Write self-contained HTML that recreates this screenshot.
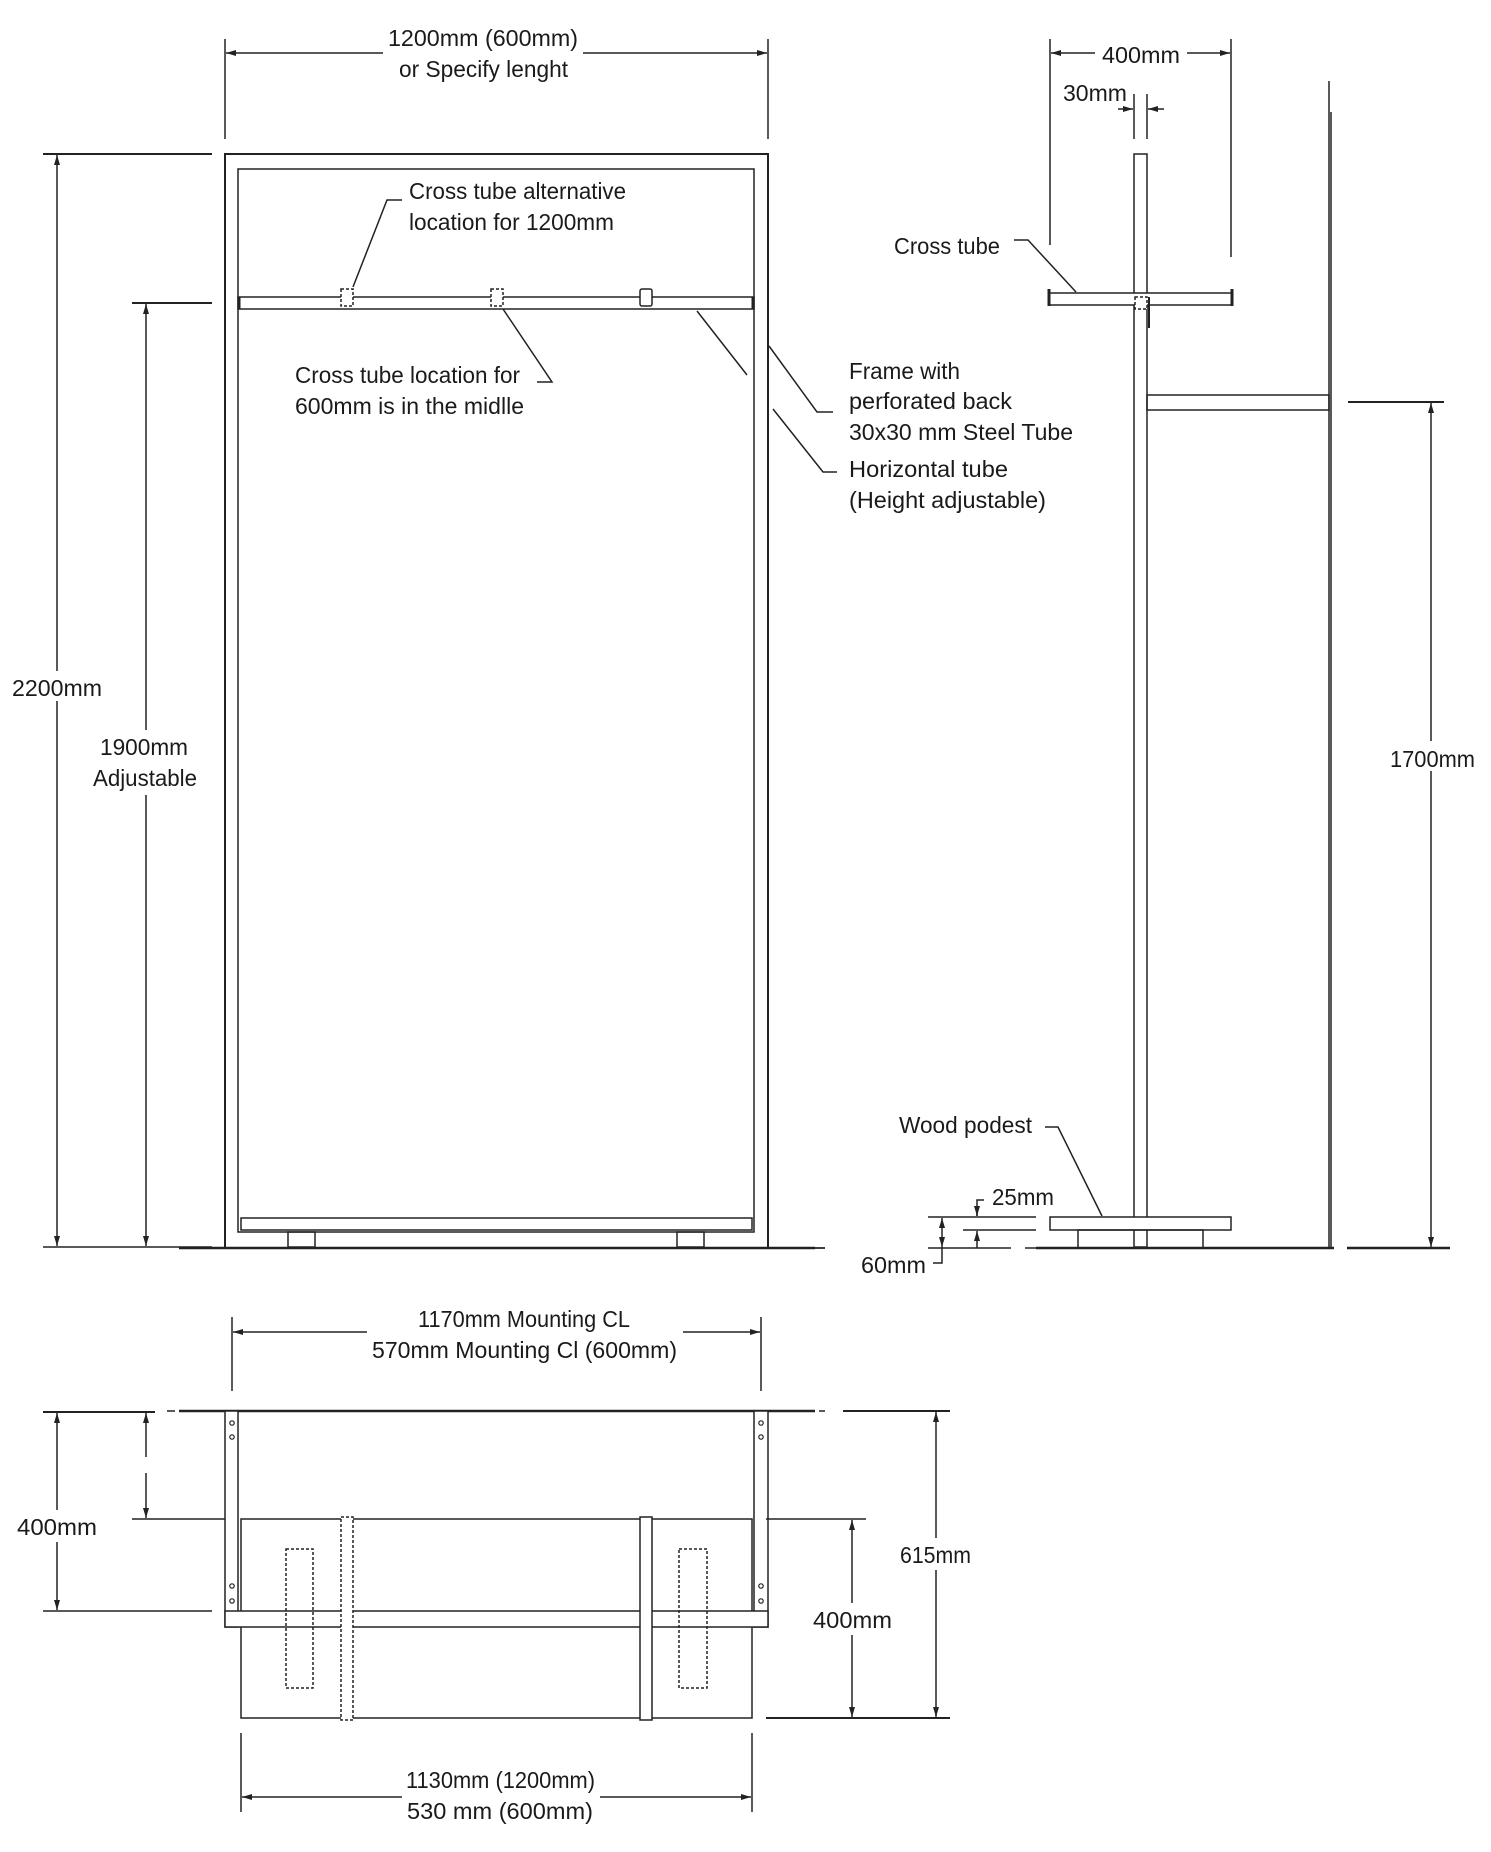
<!DOCTYPE html>
<html><head><meta charset="utf-8"><style>
html,body{margin:0;padding:0;background:#fff;}
svg{display:block;}
text{font-family:"Liberation Sans",sans-serif;font-size:23px;fill:#1a1a1a;}
</style></head><body>
<svg width="1491" height="1852" viewBox="0 0 1491 1852" xmlns="http://www.w3.org/2000/svg">
<defs>
<marker id="a" viewBox="0 0 10 6" refX="10" refY="3" markerWidth="10" markerHeight="6" markerUnits="userSpaceOnUse" orient="auto"><path d="M0,0 L10,3 L0,6 z" fill="#222"/></marker>
</defs>
<g stroke="#222" stroke-width="1.5" fill="none">
<!-- FRONT VIEW -->
<line x1="225" y1="39" x2="225" y2="139"/><line x1="768" y1="39" x2="768" y2="139"/>
<line x1="383" y1="53" x2="226" y2="53" marker-end="url(#a)"/><line x1="583" y1="53" x2="767" y2="53" marker-end="url(#a)"/>
<path d="M225,1247 V154 H768 V1247" stroke-width="2"/>
<rect x="238" y="169" width="516" height="1063"/>
<rect x="238" y="297" width="516" height="12"/>
<line x1="239" y1="297" x2="239" y2="309" stroke-width="3"/><line x1="753" y1="297" x2="753" y2="309" stroke-width="3"/>
<rect x="341" y="289" width="12" height="17" stroke-dasharray="3,2" fill="#fff"/>
<rect x="491" y="289" width="12" height="17" stroke-dasharray="3,2" fill="#fff"/>
<rect x="640" y="289" width="12" height="17" rx="2" fill="#fff"/>
<rect x="241" y="1218" width="511" height="12"/>
<rect x="288" y="1232" width="27" height="15"/><rect x="677" y="1232" width="27" height="15"/>
<line x1="179" y1="1248" x2="815" y2="1248" stroke-width="2.5"/><line x1="815" y1="1248" x2="825" y2="1248"/>
<line x1="43" y1="154" x2="212" y2="154" stroke-width="2"/>
<line x1="43" y1="1247" x2="212" y2="1247"/>
<line x1="57" y1="671" x2="57" y2="155" marker-end="url(#a)"/><line x1="57" y1="701" x2="57" y2="1246" marker-end="url(#a)"/>
<line x1="132" y1="303" x2="212" y2="303" stroke-width="2"/>
<line x1="146" y1="730" x2="146" y2="304" marker-end="url(#a)"/><line x1="146" y1="795" x2="146" y2="1246" marker-end="url(#a)"/>
<!-- leaders -->
<polyline points="353,287 387,200 402,200"/>
<polyline points="503,309 552,382 537,382"/>
<line x1="697" y1="311" x2="747" y2="375"/>
<polyline points="769,346 817,412 833,412"/>
<polyline points="773,409 823,472 837,472"/>
<!-- SIDE VIEW -->
<line x1="1050" y1="39" x2="1050" y2="245"/><line x1="1231" y1="39" x2="1231" y2="257"/>
<line x1="1095" y1="53" x2="1051" y2="53" marker-end="url(#a)"/><line x1="1187" y1="53" x2="1230" y2="53" marker-end="url(#a)"/>
<line x1="1134" y1="94" x2="1134" y2="139"/><line x1="1147" y1="94" x2="1147" y2="139"/>
<line x1="1118" y1="109" x2="1133" y2="109" marker-end="url(#a)"/><line x1="1164" y1="109" x2="1148" y2="109" marker-end="url(#a)"/>
<rect x="1134" y="154" width="13" height="1093"/>
<rect x="1049" y="293" width="183" height="12" fill="#fff"/>
<line x1="1049" y1="289" x2="1049" y2="306" stroke-width="3"/><line x1="1232" y1="289" x2="1232" y2="306" stroke-width="3"/>
<rect x="1135" y="297" width="12" height="12" stroke-dasharray="3,2" fill="#fff"/>
<line x1="1149" y1="297" x2="1149" y2="328" stroke-width="2"/>
<polyline points="1014,240 1028,240 1076,292"/>
<rect x="1147" y="395" width="182" height="15"/>
<line x1="1329" y1="81" x2="1329" y2="1248"/><line x1="1331" y1="112" x2="1331" y2="1248"/>
<line x1="1348" y1="402" x2="1444" y2="402" stroke-width="2"/>
<line x1="1431" y1="741" x2="1431" y2="403" marker-end="url(#a)"/><line x1="1431" y1="771" x2="1431" y2="1247" marker-end="url(#a)"/>
<rect x="1050" y="1217" width="181" height="13" fill="#fff"/>
<rect x="1078" y="1230" width="125" height="18"/>
<line x1="1036" y1="1248" x2="1334" y2="1248" stroke-width="2.5"/>
<line x1="1347" y1="1248" x2="1450" y2="1248" stroke-width="2.5"/>
<polyline points="1045,1127 1058,1127 1102,1216"/>
<line x1="928" y1="1217" x2="1036" y2="1217"/><line x1="963" y1="1230" x2="1036" y2="1230"/>
<line x1="928" y1="1248" x2="1011" y2="1248"/><line x1="1025" y1="1248" x2="1036" y2="1248"/>
<line x1="942" y1="1232" x2="942" y2="1218" marker-end="url(#a)"/><line x1="942" y1="1232" x2="942" y2="1247" marker-end="url(#a)"/>
<polyline points="942,1247 942,1263 933,1263"/>
<polyline points="984,1200 977,1200 977,1216"/><line x1="977" y1="1212" x2="977" y2="1216" marker-end="url(#a)"/>
<line x1="977" y1="1248" x2="977" y2="1231" marker-end="url(#a)"/>
<line x1="800" y1="1248" x2="825" y2="1248"/>
<!-- BOTTOM VIEW -->
<line x1="232" y1="1317" x2="232" y2="1391"/><line x1="761" y1="1317" x2="761" y2="1391"/>
<line x1="367" y1="1332" x2="233" y2="1332" marker-end="url(#a)"/><line x1="683" y1="1332" x2="760" y2="1332" marker-end="url(#a)"/>
<line x1="179" y1="1411" x2="815" y2="1411" stroke-width="2.5"/>
<line x1="167" y1="1411" x2="175" y2="1411"/><line x1="819" y1="1411" x2="825" y2="1411"/>
<line x1="43" y1="1412" x2="155" y2="1412" stroke-width="2"/>
<line x1="132" y1="1519" x2="227" y2="1519"/>
<line x1="43" y1="1611" x2="212" y2="1611"/>
<line x1="57" y1="1510" x2="57" y2="1413" marker-end="url(#a)"/><line x1="57" y1="1542" x2="57" y2="1610" marker-end="url(#a)"/>
<line x1="146" y1="1457" x2="146" y2="1413" marker-end="url(#a)"/><line x1="146" y1="1473" x2="146" y2="1518" marker-end="url(#a)"/>
<rect x="241" y="1519" width="511" height="199"/>
<rect x="225" y="1411" width="13" height="216" fill="#fff"/>
<rect x="754" y="1411" width="14" height="216" fill="#fff"/>
<rect x="225" y="1611" width="543" height="16" fill="#fff"/>
<g stroke-width="1.2"><circle cx="232" cy="1423" r="2.2"/><circle cx="232" cy="1437" r="2.2"/><circle cx="232" cy="1586" r="2.2"/><circle cx="232" cy="1601" r="2.2"/>
<circle cx="761" cy="1423" r="2.2"/><circle cx="761" cy="1437" r="2.2"/><circle cx="761" cy="1586" r="2.2"/><circle cx="761" cy="1601" r="2.2"/></g>
<rect x="286" y="1549" width="27" height="139" stroke-dasharray="3,2"/>
<rect x="679" y="1549" width="28" height="139" stroke-dasharray="3,2"/>
<rect x="341" y="1517" width="12" height="203" stroke-dasharray="3,2" fill="#fff"/>
<rect x="640" y="1517" width="12" height="203" fill="#fff"/>
<line x1="843" y1="1411" x2="950" y2="1411" stroke-width="2"/>
<line x1="766" y1="1519" x2="866" y2="1519"/>
<line x1="766" y1="1718" x2="950" y2="1718" stroke-width="2"/>
<line x1="852" y1="1603" x2="852" y2="1520" marker-end="url(#a)"/><line x1="852" y1="1635" x2="852" y2="1717" marker-end="url(#a)"/>
<line x1="936" y1="1538" x2="936" y2="1412" marker-end="url(#a)"/><line x1="936" y1="1570" x2="936" y2="1717" marker-end="url(#a)"/>
<line x1="241" y1="1733" x2="241" y2="1812"/><line x1="752" y1="1733" x2="752" y2="1812"/>
<line x1="402" y1="1797" x2="242" y2="1797" marker-end="url(#a)"/><line x1="600" y1="1797" x2="751" y2="1797" marker-end="url(#a)"/>
</g>
<g lengthAdjust="spacingAndGlyphs">
<text x="388" y="46" textLength="190" lengthAdjust="spacingAndGlyphs">1200mm (600mm)</text>
<text x="399" y="77" textLength="169" lengthAdjust="spacingAndGlyphs">or Specify lenght</text>
<text x="409" y="199" textLength="217" lengthAdjust="spacingAndGlyphs">Cross tube alternative</text>
<text x="409" y="230" textLength="205" lengthAdjust="spacingAndGlyphs">location for 1200mm</text>
<text x="295" y="383" textLength="225" lengthAdjust="spacingAndGlyphs">Cross tube location for</text>
<text x="295" y="414" textLength="229" lengthAdjust="spacingAndGlyphs">600mm is in the midlle</text>
<text x="849" y="379" textLength="111" lengthAdjust="spacingAndGlyphs">Frame with</text>
<text x="849" y="409" textLength="163" lengthAdjust="spacingAndGlyphs">perforated back</text>
<text x="849" y="440" textLength="224" lengthAdjust="spacingAndGlyphs">30x30 mm Steel Tube</text>
<text x="849" y="477" textLength="159" lengthAdjust="spacingAndGlyphs">Horizontal tube</text>
<text x="849" y="508" textLength="197" lengthAdjust="spacingAndGlyphs">(Height adjustable)</text>
<text x="894" y="254" textLength="106" lengthAdjust="spacingAndGlyphs">Cross tube</text>
<text x="1102" y="63" textLength="78" lengthAdjust="spacingAndGlyphs">400mm</text>
<text x="1063" y="101" textLength="64" lengthAdjust="spacingAndGlyphs">30mm</text>
<text x="1390" y="767" textLength="85" lengthAdjust="spacingAndGlyphs">1700mm</text>
<text x="12" y="696" textLength="90" lengthAdjust="spacingAndGlyphs">2200mm</text>
<text x="100" y="755" textLength="88" lengthAdjust="spacingAndGlyphs">1900mm</text>
<text x="93" y="786" textLength="104" lengthAdjust="spacingAndGlyphs">Adjustable</text>
<text x="899" y="1133" textLength="133" lengthAdjust="spacingAndGlyphs">Wood podest</text>
<text x="992" y="1205" textLength="62" lengthAdjust="spacingAndGlyphs">25mm</text>
<text x="861" y="1273" textLength="65" lengthAdjust="spacingAndGlyphs">60mm</text>
<text x="418" y="1327" textLength="212" lengthAdjust="spacingAndGlyphs">1170mm Mounting CL</text>
<text x="372" y="1358" textLength="305" lengthAdjust="spacingAndGlyphs">570mm Mounting Cl (600mm)</text>
<text x="17" y="1535" textLength="80" lengthAdjust="spacingAndGlyphs">400mm</text>
<text x="813" y="1628" textLength="79" lengthAdjust="spacingAndGlyphs">400mm</text>
<text x="900" y="1563" textLength="71" lengthAdjust="spacingAndGlyphs">615mm</text>
<text x="406" y="1788" textLength="189" lengthAdjust="spacingAndGlyphs">1130mm (1200mm)</text>
<text x="407" y="1819" textLength="186" lengthAdjust="spacingAndGlyphs">530 mm (600mm)</text>
</g>
</svg>
</body></html>
